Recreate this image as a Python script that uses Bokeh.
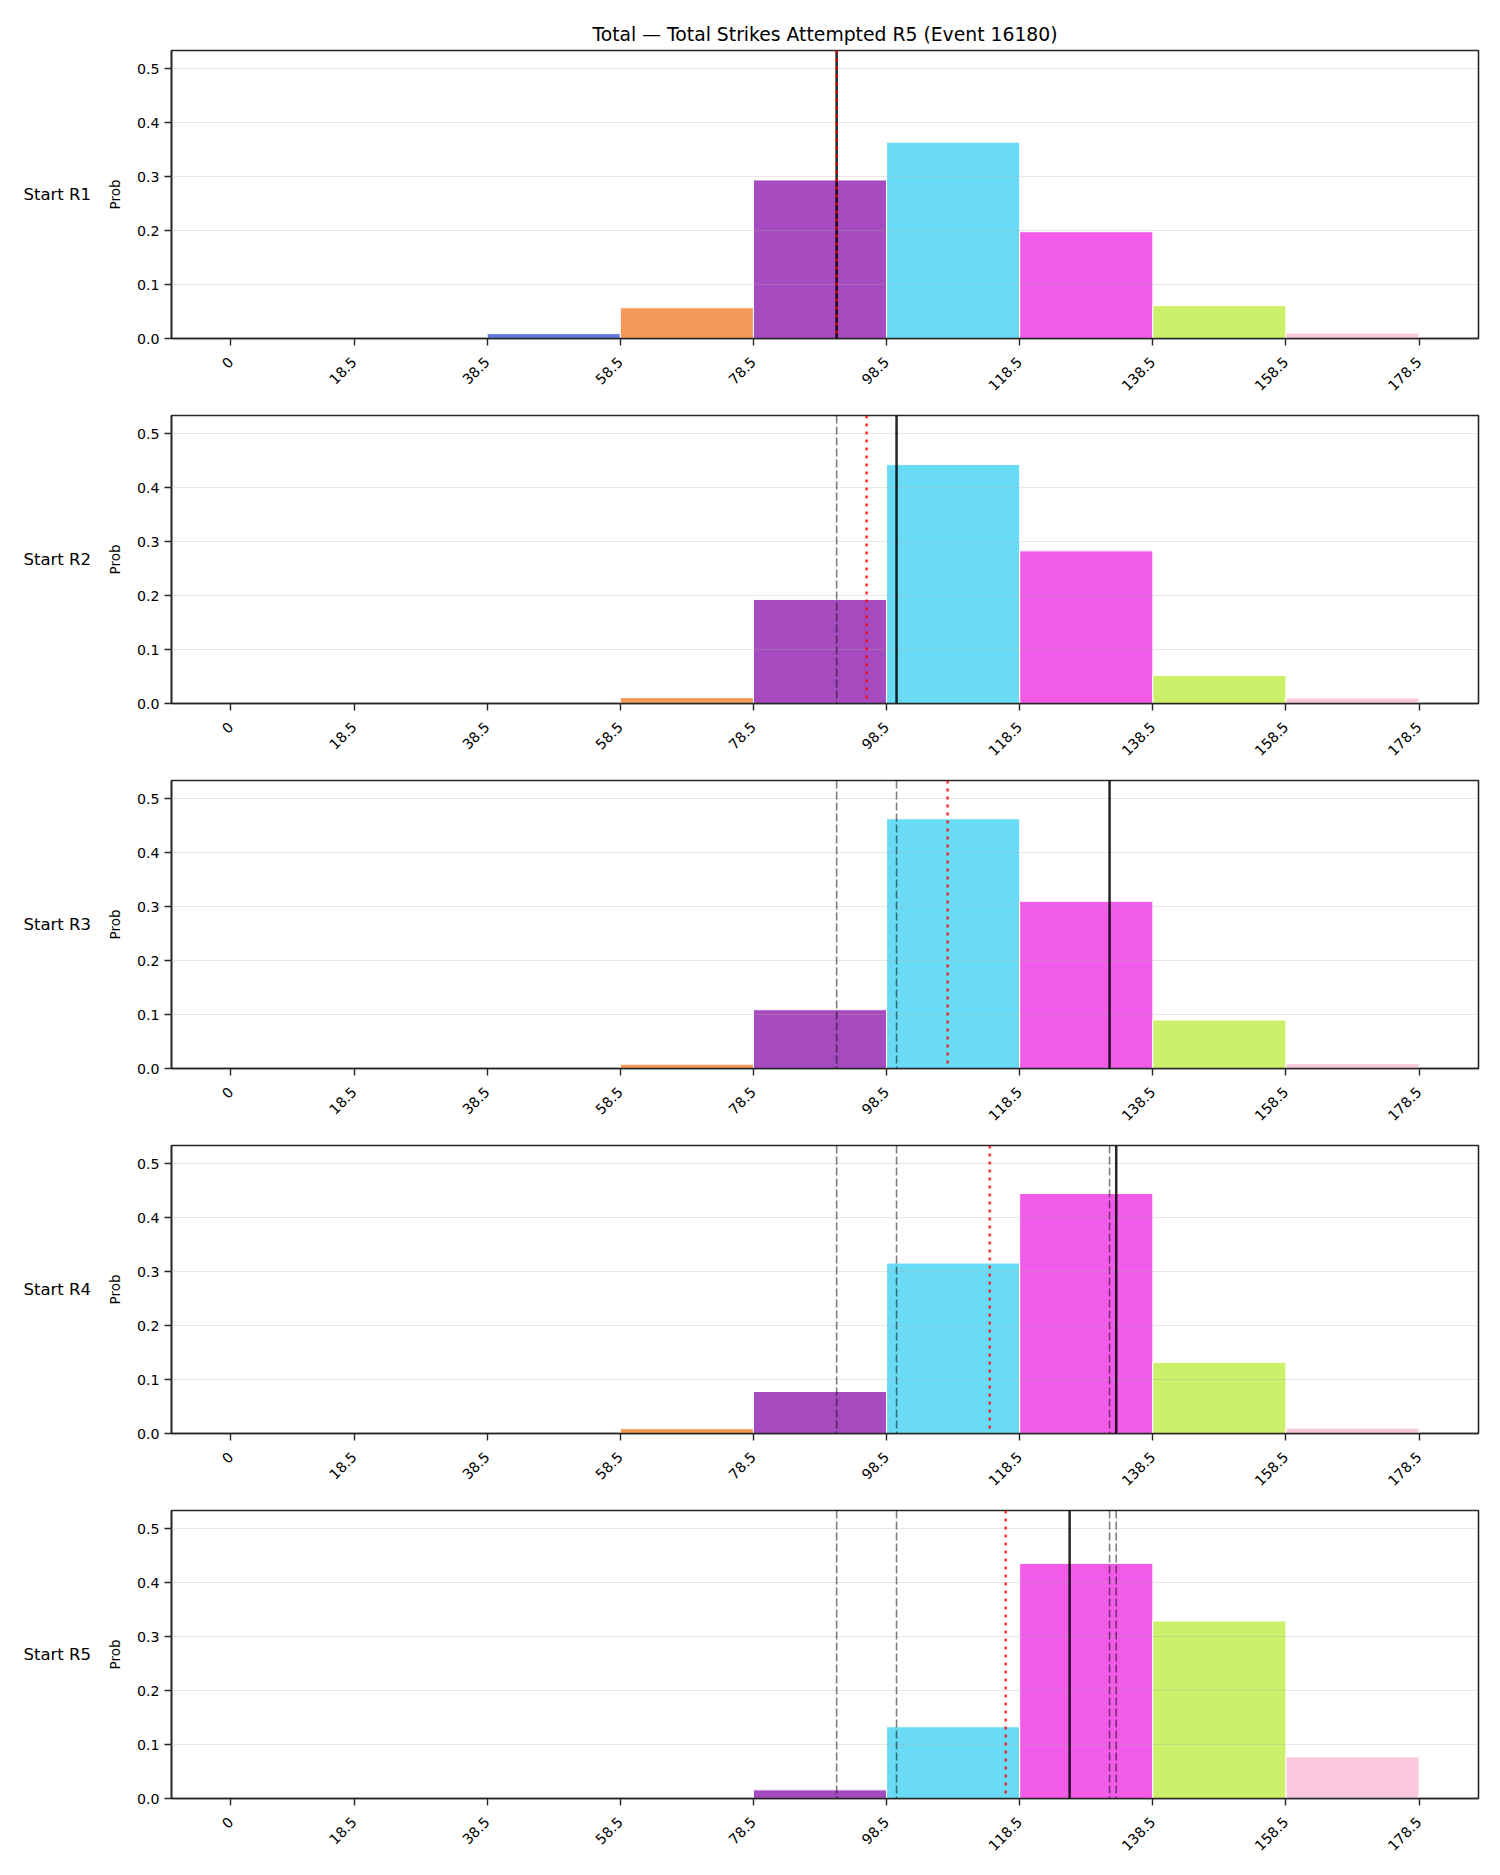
import math

from bokeh.embed import file_html
from bokeh.layouts import column, row
from bokeh.models import (ColumnDataSource, FixedTicker, PrintfTickFormatter,
                          Range1d, Span)
from bokeh.plotting import figure
from bokeh.resources import INLINE
from bokeh.core.properties import value

# ---- data -------------------------------------------------------------
TITLE = "Total \u2014 Total Strikes Attempted R5 (Event 16180)"

bin_edges = [0, 18.5, 38.5, 58.5, 78.5, 98.5, 118.5, 138.5, 158.5, 178.5]
tick_labels = ["0", "18.5", "38.5", "58.5", "78.5", "98.5", "118.5", "138.5", "158.5", "178.5"]
bin_colors = ["#e8615c", "#55b96a", "#6078dc", "#f59a5a", "#a64bbf",
              "#69dbf5", "#f25ae8", "#cdf06a", "#f9c8dc"]

row_labels = ["Start R1", "Start R2", "Start R3", "Start R4", "Start R5"]

probs_r1 = [0.0, 0.0, 0.009, 0.057, 0.294, 0.364, 0.198, 0.061, 0.010]
probs_r2 = [0.0, 0.0, 0.0, 0.011, 0.193, 0.443, 0.283, 0.052, 0.010]
probs_r3 = [0.0, 0.0, 0.0, 0.008, 0.109, 0.463, 0.310, 0.090, 0.009]
probs_r4 = [0.0, 0.0, 0.0, 0.009, 0.078, 0.316, 0.445, 0.132, 0.010]
probs_r5 = [0.0, 0.0, 0.0, 0.0, 0.016, 0.133, 0.436, 0.329, 0.077]
all_probs = [probs_r1, probs_r2, probs_r3, probs_r4, probs_r5]

# realised total after each start round, and the running average of those
actual_totals = [91.0, 100.0, 132.0, 133.0, 126.0]
running_means = [91.0, 95.5, 107.67, 114.0, 116.4]

y_ticks = [0.0, 0.1, 0.2, 0.3, 0.4, 0.5]
Y_MAX = 0.534

# ---- styling ------------------------------------------------------------
FONT = "DejaVu Sans"
INK = "#262626"
LABEL_COL_W = 100          # width of the strip holding the row names
FRAME_H = 288


def row_name_panel(text, top, bottom):
    """Narrow figure that only carries the row name, vertically centred on the frame."""
    f = figure(
        frame_width=LABEL_COL_W, frame_height=FRAME_H,
        min_border_left=0, min_border_right=0,
        min_border_top=top, min_border_bottom=bottom,
        x_range=Range1d(0, LABEL_COL_W), y_range=Range1d(0, 1),
        output_backend="svg", toolbar_location=None,
        background_fill_color="white", border_fill_color="white",
    )
    f.axis.visible = False
    f.grid.visible = False
    f.outline_line_color = None
    f.text(x=[23], y=[0.5], text=[text], text_align="left", text_baseline="middle",
           text_font=value(FONT), text_font_size="16.5px", text_color="black")
    return f


rows = []
for i, (label, probs) in enumerate(zip(row_labels, all_probs)):
    first = i == 0
    top_border = 50 if first else 10
    bottom_border = 67
    p = figure(
        frame_width=1307, frame_height=FRAME_H,
        min_border_left=171 - LABEL_COL_W, min_border_right=22,
        min_border_top=top_border, min_border_bottom=bottom_border,
        x_range=Range1d(-8.925, 187.425), y_range=Range1d(0, Y_MAX),
        output_backend="svg", toolbar_location=None,
        background_fill_color="white", border_fill_color="white",
    )
    if first:
        p.title.text = TITLE
        p.title.align = "center"
        p.title.text_font = FONT
        p.title.text_font_size = "18.8px"
        p.title.text_font_style = "normal"
        p.title.text_color = "black"
        p.title.standoff = 12

    p.outline_line_color = INK
    p.outline_line_width = 1.6
    p.outline_line_alpha = 1

    # axes
    for ax in (p.xaxis[0], p.yaxis[0]):
        ax.axis_line_color = INK
        ax.axis_line_width = 1.6
        ax.major_tick_line_color = INK
        ax.major_tick_line_width = 1.4
        ax.major_tick_out = 7
        ax.major_tick_in = 0
        ax.minor_tick_out = 0
        ax.minor_tick_in = 0
        ax.major_label_text_font = FONT
        ax.major_label_text_font_size = "14.2px"
        ax.major_label_text_color = "black"
        ax.major_label_standoff = 5

    p.xaxis.ticker = FixedTicker(ticks=bin_edges)
    p.xaxis.major_label_overrides = {float(t): s for t, s in zip(bin_edges, tick_labels)}
    p.xaxis.major_label_orientation = math.pi / 4
    p.xaxis.major_label_standoff = 14

    p.yaxis.ticker = FixedTicker(ticks=y_ticks)
    p.yaxis.formatter = PrintfTickFormatter(format="%.1f")
    p.yaxis.axis_label = "Prob"
    p.yaxis.axis_label_text_font = FONT
    p.yaxis.axis_label_text_font_size = "13.5px"
    p.yaxis.axis_label_text_font_style = "normal"
    p.yaxis.axis_label_text_color = "black"
    p.yaxis.axis_label_standoff = 11

    p.xgrid.visible = False
    p.ygrid.ticker = FixedTicker(ticks=y_ticks[1:])
    p.ygrid.grid_line_color = "#b0b0b0"
    p.ygrid.grid_line_alpha = 0.3
    p.ygrid.grid_line_width = 1
    p.ygrid.level = "annotation"

    # histogram bars
    src = ColumnDataSource(dict(
        left=bin_edges[:-1], right=bin_edges[1:], top=probs, color=bin_colors,
    ))
    p.quad(left="left", right="right", bottom=0, top="top", source=src,
           fill_color="color", fill_alpha=1.0, line_color="white", line_width=1)

    # earlier rounds' totals (dashed), this round's total (solid), running mean (dotted)
    for k in range(i):
        p.add_layout(Span(location=actual_totals[k], dimension="height",
                          line_color="black", line_alpha=0.5, line_width=1.6,
                          line_dash="8 3"))
    p.add_layout(Span(location=actual_totals[i], dimension="height",
                      line_color="black", line_alpha=0.85, line_width=2.5))
    p.add_layout(Span(location=running_means[i], dimension="height",
                      line_color="red", line_alpha=0.78, line_width=2.6,
                      line_dash="3 5"))

    rows.append(row(row_name_panel(label, top_border, bottom_border), p, spacing=0))

layout = column(*rows, spacing=0)
open("out.html", "w").write(file_html(layout, INLINE, title=TITLE))
